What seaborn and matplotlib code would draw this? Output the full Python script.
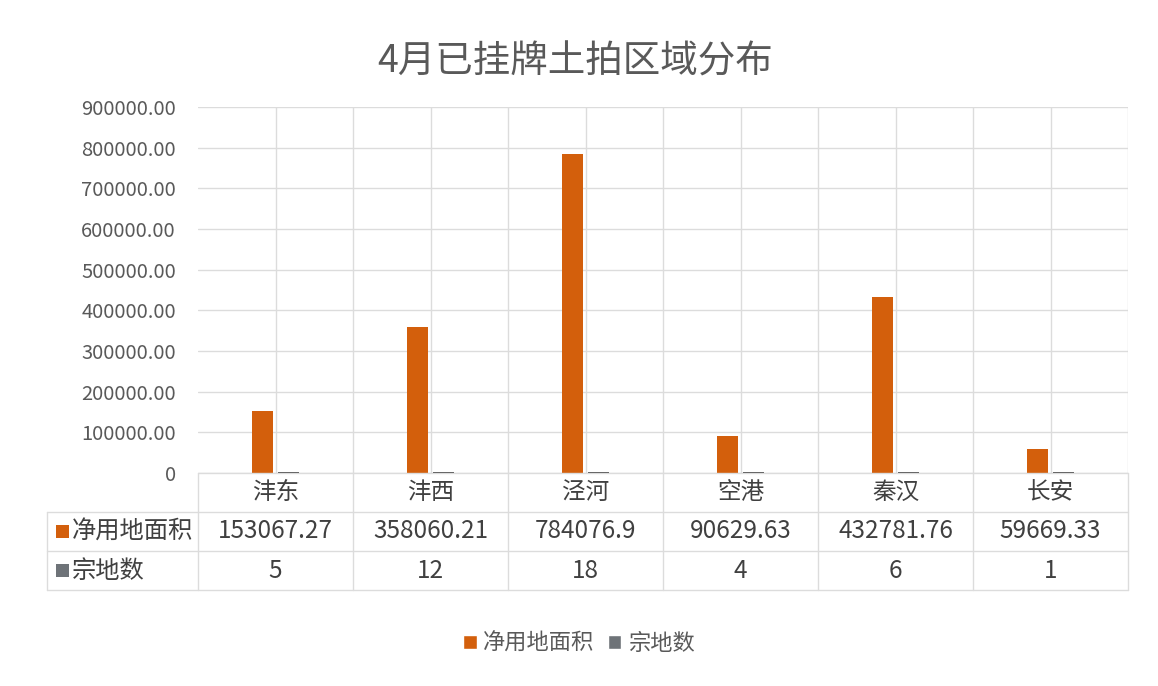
import matplotlib
matplotlib.use("Agg")
import matplotlib.pyplot as plt
from matplotlib.patches import Rectangle
import pandas as pd
import seaborn as sns

# data
regions = ["沣东", "沣西", "泾河", "空港", "秦汉", "长安"]
area = [153067.27, 358060.21, 784076.9, 90629.63, 432781.76, 59669.33]
count = [5, 12, 18, 4, 6, 1]
series = ["净用地面积", "宗地数"]
yticks = [0, 100000, 200000, 300000, 400000, 500000, 600000, 700000, 800000, 900000]

orange = "#D35F0C"
grey = "#6E7378"
grid_c = "#DCDCDC"
txt_c = "#404040"

sns.set_theme(style="white")
plt.rcParams["font.family"] = ["Noto Sans CJK SC", "DejaVu Sans"]

df = pd.DataFrame({
    "region": regions * 2,
    "series": [series[0]] * len(regions) + [series[1]] * len(regions),
    "value": area + count,
})

fig = plt.figure(figsize=(11.58, 6.86), dpi=100)
ax = fig.add_axes([198 / 1158, 1 - 473 / 686, 930 / 1158, 366 / 686])

sns.barplot(data=df, x="region", y="value", hue="series", palette=[orange, grey],
            width=0.34, gap=0.2, saturation=1, ax=ax, legend=True)

# grey bars are tiny, Excel still draws a little dash for them
for p in ax.containers[0]:
    p.set_linewidth(0)
for p in ax.containers[1]:
    p.set_edgecolor("#3A3A3A")
    p.set_linewidth(1.3)

ax.set_xlim(-0.5, len(regions) - 0.5)
ax.set_ylim(0, 900000)
ax.set_yticks(yticks)
ax.set_yticklabels(["0"] + [f"{v:.2f}" for v in yticks[1:]], fontsize=14.5, color="#595959")
ax.tick_params(axis="y", length=0, pad=16)
ax.set_xticks([])
ax.set_xlabel("")
ax.set_ylabel("")
for s in ax.spines.values():
    s.set_visible(False)

# grid: horizontal every 100000, vertical every half category
for v in yticks:
    ax.axhline(v, color=grid_c, lw=1, zorder=0)
for k in range(1, 2 * len(regions) + 1):
    ax.axvline(-0.5 + 0.5 * k, color=grid_c, lw=1, zorder=0)

# data table below the plot
tr = ax.get_xaxis_transform()
rh = 39 / 366
left = -0.5 - 151 / 155
right = len(regions) - 0.5
lines = [
    ([-0.5, right], [0, 0]),
    ([left, right], [-rh, -rh]),
    ([left, right], [-2 * rh, -2 * rh]),
    ([left, right], [-3 * rh, -3 * rh]),
    ([left, left], [-rh, -3 * rh]),
]
for k in range(len(regions) + 1):
    lines.append(([-0.5 + k, -0.5 + k], [0, -3 * rh]))
for xs, ys in lines:
    ax.plot(xs, ys, color=grid_c, lw=1, transform=tr, clip_on=False)

for i, r in enumerate(regions):
    ax.text(i, -0.5 * rh, r, transform=tr, ha="center", va="center",
            fontsize=17, color=txt_c)
    ax.text(i, -1.5 * rh, str(area[i]), transform=tr, ha="center", va="center",
            fontsize=17.5, color=txt_c)
    ax.text(i, -2.5 * rh, str(count[i]), transform=tr, ha="center", va="center",
            fontsize=17.5, color=txt_c)

sq_w = 13 / 155
sq_h = 13 / 366
for j, (name, col) in enumerate(zip(series, [orange, grey])):
    yc = -(1.5 + j) * rh
    ax.add_patch(Rectangle((left + 9 / 155, yc - sq_h / 2), sq_w, sq_h, transform=tr,
                           facecolor=col, edgecolor="none", clip_on=False))
    ax.text(left + 25 / 155, yc, name, transform=tr, ha="left", va="center",
            fontsize=17.5, color=txt_c)

# legend at the bottom
handles, labels = ax.get_legend_handles_labels()
ax.get_legend().remove()
fig.legend(handles, labels, loc="center", bbox_to_anchor=(0.5, 1 - 643 / 686),
           ncol=2, frameon=False, fontsize=16, handlelength=0.6, handleheight=0.6,
           handletextpad=0.3, columnspacing=0.6, labelcolor="#595959")

fig.text(0.4965, 1 - 62 / 686, "4月已挂牌土拍区域分布", ha="center", va="center",
         fontsize=27, color="#595959")

fig.savefig("out.png", dpi=100)
